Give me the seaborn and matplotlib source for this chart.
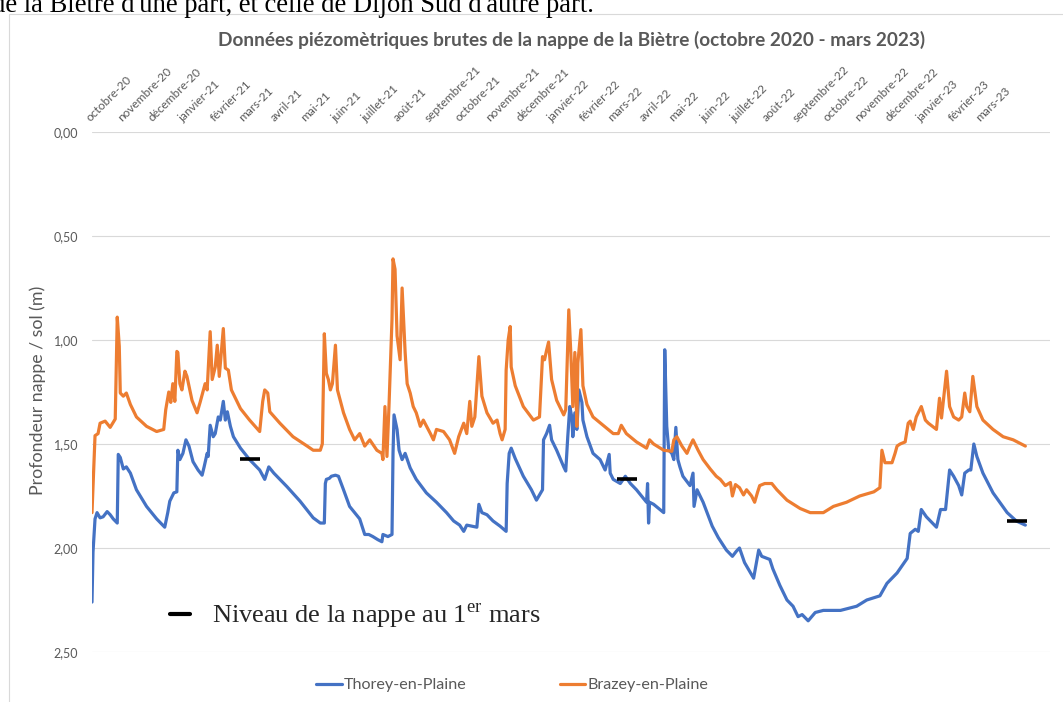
import numpy as np
import pandas as pd
import matplotlib.pyplot as plt
from matplotlib.lines import Line2D
from matplotlib.patches import Rectangle
from matplotlib.ticker import FuncFormatter
import seaborn as sns

### valeurs : jours depuis le 1er octobre 2020, profondeur (m)
DEBUT = '2020-10-01'

JOURS_THOREY = [0, 1, 3, 5, 8, 11, 15, 18, 21, 25, 26, 28, 31, 34, 38, 44, 54, 64, 72, 75,
                77, 81, 84, 85, 87, 90, 93, 96, 100, 105, 109, 111, 114, 115, 117, 120, 122,
                125, 127, 130, 132, 134, 137, 140, 147, 156, 166, 171, 175, 180, 193, 206,
                219, 226, 230, 231, 232, 235, 237, 241, 244, 249, 255, 260, 265, 270, 274,
                278, 283, 287, 288, 293, 297, 298, 299, 302, 304, 307, 310, 315, 321, 331,
                341, 351, 358, 364, 368, 371, 376, 381, 383, 386, 391, 397, 404, 410, 411,
                413, 415, 419, 427, 435, 440, 443, 446, 447, 450, 453, 455, 460, 467, 469,
                471, 473, 475, 476, 478, 480, 482, 485, 486, 490, 496, 503, 508, 512, 513,
                516, 523, 528, 533, 539, 549, 550, 551, 552, 556, 566, 567, 569, 571, 574,
                576, 578, 580, 582, 585, 592, 595, 596, 599, 605, 614, 620, 628, 634, 638,
                641, 646, 655, 660, 663, 671, 674, 681, 688, 694, 699, 703, 709, 716, 724,
                741, 757, 767, 780, 787, 797, 807, 810, 815, 818, 821, 826, 836, 840, 845,
                849, 853, 858, 861, 864, 868, 870, 873, 876, 882, 892, 906, 915, 924]
PROF_THOREY = [2.26, 2.02, 1.86, 1.83, 1.855, 1.85, 1.825, 1.84, 1.86, 1.88, 1.55, 1.565, 1.62,
               1.61, 1.64, 1.72, 1.80, 1.86, 1.90, 1.83, 1.775, 1.735, 1.73, 1.53, 1.575, 1.545,
               1.48, 1.51, 1.585, 1.625, 1.65, 1.61, 1.545, 1.56, 1.41, 1.465, 1.45, 1.37, 1.385,
               1.295, 1.385, 1.345, 1.415, 1.465, 1.52, 1.575, 1.625, 1.67, 1.61, 1.64, 1.705,
               1.775, 1.855, 1.88, 1.88, 1.69, 1.67, 1.665, 1.655, 1.65, 1.655, 1.72, 1.80, 1.83,
               1.86, 1.935, 1.935, 1.945, 1.96, 1.97, 1.935, 1.945, 1.935, 1.545, 1.36, 1.43,
               1.53, 1.575, 1.545, 1.615, 1.67, 1.735, 1.78, 1.83, 1.87, 1.89, 1.92, 1.89, 1.895,
               1.90, 1.79, 1.83, 1.84, 1.87, 1.895, 1.92, 1.69, 1.545, 1.52, 1.57, 1.655, 1.72,
               1.77, 1.745, 1.72, 1.48, 1.45, 1.41, 1.48, 1.53, 1.61, 1.63, 1.465, 1.32, 1.37,
               1.465, 1.35, 1.43, 1.24, 1.30, 1.385, 1.465, 1.545, 1.575, 1.625, 1.55, 1.64, 1.67,
               1.69, 1.655, 1.69, 1.72, 1.78, 1.69, 1.88, 1.78, 1.79, 1.83, 1.047, 1.415, 1.53,
               1.545, 1.575, 1.42, 1.575, 1.61, 1.655, 1.70, 1.64, 1.80, 1.72, 1.78, 1.895, 1.95,
               2.01, 2.04, 2.015, 2.0, 2.07, 2.145, 2.01, 2.04, 2.055, 2.10, 2.18, 2.25, 2.28,
               2.33, 2.32, 2.35, 2.31, 2.30, 2.30, 2.28, 2.25, 2.23, 2.17, 2.12, 2.05, 1.93, 1.91,
               1.92, 1.815, 1.85, 1.90, 1.815, 1.815, 1.625, 1.655, 1.70, 1.745, 1.64, 1.625,
               1.625, 1.50, 1.56, 1.64, 1.735, 1.83, 1.87, 1.89]

JOURS_BRAZEY = [0, 3, 6, 8, 13, 18, 23, 25, 27, 28, 31, 34, 38, 44, 54, 64, 71, 73, 76, 78, 80,
                82, 84, 85, 87, 89, 92, 94, 99, 104, 107, 112, 114, 117, 119, 122, 124, 126,
                130, 132, 135, 138, 147, 156, 166, 169, 171, 174, 176, 186, 199, 213, 219, 226,
                228, 230, 232, 234, 236, 238, 241, 243, 249, 255, 260, 265, 270, 275, 282, 287,
                288, 290, 292, 294, 297, 298, 300, 302, 305, 307, 310, 312, 315, 318, 321, 325,
                328, 335, 338, 341, 348, 354, 359, 363, 368, 371, 374, 376, 379, 383, 386, 391,
                397, 401, 404, 406, 409, 410, 412, 414, 415, 419, 427, 437, 443, 446, 448, 450,
                452, 455, 460, 467, 469, 472, 474, 476, 478, 480, 481, 484, 486, 490, 496, 506,
                516, 521, 524, 529, 539, 549, 552, 556, 566, 574, 576, 579, 584, 589, 592, 595,
                600, 605, 612, 618, 622, 627, 632, 634, 637, 641, 645, 648, 653, 656, 659, 661,
                666, 673, 678, 688, 701, 711, 724, 734, 747, 760, 774, 780, 782, 785, 792, 795,
                797, 800, 805, 808, 810, 813, 816, 821, 825, 828, 836, 839, 841, 846, 849, 853,
                858, 861, 864, 866, 869, 872, 876, 882, 892, 902, 912, 924]
PROF_BRAZEY = [1.83, 1.46, 1.45, 1.40, 1.39, 1.42, 1.38, 0.89, 1.03, 1.255, 1.27, 1.255, 1.31,
               1.37, 1.415, 1.44, 1.43, 1.335, 1.25, 1.30, 1.21, 1.295, 1.055, 1.06, 1.21, 1.24,
               1.15, 1.175, 1.29, 1.35, 1.30, 1.21, 1.24, 0.96, 1.19, 1.13, 1.025, 1.175, 0.945,
               1.135, 1.145, 1.24, 1.33, 1.385, 1.44, 1.295, 1.24, 1.255, 1.345, 1.40, 1.465,
               1.51, 1.53, 1.53, 1.50, 0.97, 1.16, 1.19, 1.24, 1.21, 1.025, 1.24, 1.35, 1.43,
               1.48, 1.45, 1.51, 1.48, 1.53, 1.545, 1.575, 1.32, 1.56, 1.32, 0.90, 0.61, 0.66,
               0.98, 1.095, 0.75, 1.06, 1.21, 1.255, 1.32, 1.35, 1.415, 1.385, 1.45, 1.48, 1.43,
               1.44, 1.48, 1.545, 1.465, 1.40, 1.45, 1.295, 1.415, 1.37, 1.08, 1.27, 1.35, 1.40,
               1.385, 1.45, 1.48, 1.43, 1.145, 1.0, 0.935, 1.13, 1.22, 1.32, 1.385, 1.37, 1.08,
               1.095, 1.05, 1.01, 1.19, 1.29, 1.36, 1.335, 0.855, 1.06, 1.32, 1.06, 1.415, 1.11,
               0.95, 1.22, 1.31, 1.37, 1.41, 1.45, 1.45, 1.41, 1.45, 1.49, 1.52, 1.48, 1.50,
               1.53, 1.535, 1.48, 1.465, 1.51, 1.545, 1.51, 1.48, 1.53, 1.575, 1.62, 1.655, 1.67,
               1.70, 1.685, 1.75, 1.695, 1.71, 1.745, 1.72, 1.75, 1.78, 1.73, 1.70, 1.69, 1.69,
               1.72, 1.77, 1.81, 1.83, 1.83, 1.80, 1.78, 1.75, 1.73, 1.71, 1.53, 1.59, 1.59,
               1.545, 1.51, 1.50, 1.49, 1.40, 1.39, 1.43, 1.37, 1.32, 1.385, 1.40, 1.43, 1.28,
               1.375, 1.15, 1.32, 1.37, 1.385, 1.37, 1.255, 1.32, 1.345, 1.175, 1.32, 1.385,
               1.43, 1.465, 1.48, 1.51]

# niveau au 1er mars (traits noirs)
JOURS_MARS = [156, 530, 916]
NIVEAU_MARS = [1.571, 1.666, 1.869]

MOIS = ['janvier', 'février', 'mars', 'avril', 'mai', 'juin', 'juillet', 'août',
        'septembre', 'octobre', 'novembre', 'décembre']

BLEU = '#4472C4'
ORANGE = '#ED7D31'
GRIS = '#595959'
W, H = 1063, 702


def to_dates(jours):
    return pd.Timestamp(DEBUT) + pd.to_timedelta(jours, unit='D')


def main():
    sns.set_theme(style='white')
    plt.rcParams['font.family'] = ['Lato', 'DejaVu Sans']
    plt.rcParams['mathtext.fontset'] = 'custom'
    plt.rcParams['mathtext.rm'] = 'Liberation Serif'

    thorey = pd.DataFrame({'date': to_dates(JOURS_THOREY), 'prof': PROF_THOREY})
    brazey = pd.DataFrame({'date': to_dates(JOURS_BRAZEY), 'prof': PROF_BRAZEY})
    mars = pd.DataFrame({'date': to_dates(JOURS_MARS), 'prof': NIVEAU_MARS})

    fig = plt.figure(figsize=(W / 100, H / 100), dpi=100)
    ax = fig.add_axes([92 / W, 1 - 652 / H, 958 / W, 520 / H])

    sns.lineplot(data=thorey, x='date', y='prof', color=BLEU, lw=2.3,
                 estimator=None, sort=False, ax=ax)
    sns.lineplot(data=brazey, x='date', y='prof', color=ORANGE, lw=2.3,
                 estimator=None, sort=False, ax=ax)
    sns.scatterplot(data=mars, x='date', y='prof', marker='_', s=210,
                    color='black', linewidth=2.6, ax=ax, zorder=5)

    ### axes
    ax.set_ylim(2.5, 0)
    ax.set_yticks(np.arange(0, 2.51, 0.5))
    ax.yaxis.set_major_formatter(FuncFormatter(lambda v, p: f'{v:.2f}'.replace('.', ',')))
    ax.grid(axis='y', color='#D9D9D9', lw=0.8)
    ax.grid(axis='x', visible=False)
    for s in ax.spines.values():
        s.set_visible(False)

    ax.set_xlim(pd.Timestamp(DEBUT), pd.Timestamp(DEBUT) + pd.Timedelta(days=948.4))
    ticks = pd.date_range('2020-10-01', '2023-03-01', freq='MS')
    labels = [f'{MOIS[d.month - 1]}-{d.year % 100:02d}' for d in ticks]
    ax.xaxis.tick_top()
    ax.set_xticks(ticks)
    ax.set_xticklabels(labels, rotation=45, ha='left', va='bottom',
                       rotation_mode='anchor', fontsize=8.6, color=GRIS)
    ax.tick_params(axis='x', length=0, pad=6)
    ax.tick_params(axis='y', length=0, pad=10, labelsize=9, labelcolor=GRIS)
    ax.set_xlabel('')
    ax.set_ylabel('')

    ### textes
    fig.text(-8 / W, 1 - 11.5 / H, "de la Biètre d'une part, et celle de Dijon Sud d'autre part.",
             family='Liberation Serif', fontsize=19.2, ha='left', va='baseline', color='black')
    fig.text(572 / W, 1 - 40 / H,
             'Données piézomètriques brutes de la nappe de la Biètre (octobre 2020 - mars 2023)',
             ha='center', va='center', fontsize=13.7, fontweight='bold', color=GRIS)
    fig.text(38 / W, 1 - 390 / H, 'Profondeur nappe / sol (m)', rotation=90,
             ha='center', va='center', fontsize=12.8, color=GRIS)

    # cadre du graphique
    fig.add_artist(Rectangle((9 / W, -0.1), 1.2, 1 - 14 / H + 0.1, transform=fig.transFigure,
                             fill=False, edgecolor='#D9D9D9', lw=0.8))

    ### légendes
    leg1 = ax.legend(handles=[Line2D([], [], color=BLEU, lw=2.3), Line2D([], [], color=ORANGE, lw=2.3)],
                     labels=['Thorey-en-Plaine', 'Brazey-en-Plaine'], loc='center',
                     bbox_to_anchor=(512 / W, 1 - 685 / H), bbox_transform=fig.transFigure,
                     ncol=2, frameon=False, fontsize=11.6, handlelength=1.6, handletextpad=0.1,
                     columnspacing=5.8, labelcolor=GRIS)
    ax.add_artist(leg1)
    ax.legend(handles=[Line2D([], [], color='black', lw=3)],
              labels=['Niveau de la nappe au 1$^{\\mathrm{er}}$ mars'], loc='center left',
              bbox_to_anchor=(170 / W, 1 - 616 / H), bbox_transform=fig.transFigure,
              frameon=False, prop={'family': 'Liberation Serif', 'size': 19},
              handlelength=0.76, handletextpad=0.83, borderpad=0, borderaxespad=0)

    fig.savefig('out.png', dpi=100)


if __name__ == '__main__':
    main()
